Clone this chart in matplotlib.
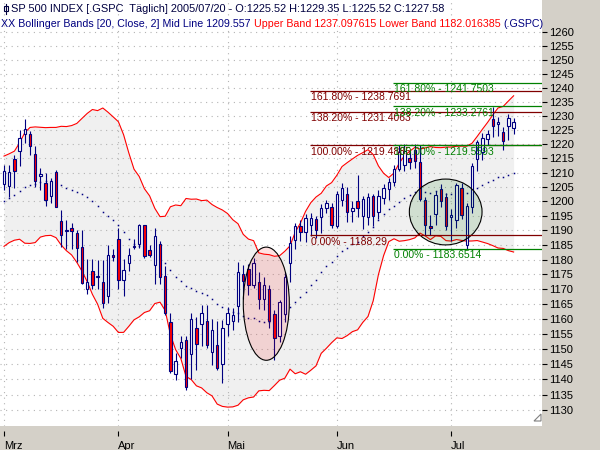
import numpy as np
import pandas as pd
import matplotlib
matplotlib.use('Agg')
import matplotlib.pyplot as plt
from matplotlib.patches import Ellipse, Rectangle, Polygon
from matplotlib.lines import Line2D
from matplotlib.ticker import FixedLocator, FormatStrFormatter, NullLocator

# SP 500 daily candles, 1 Mar - 20 Jul 2005
opens = [1206.0, 1205.5, 1214.6, 1217.4, 1223.5, 1223.5, 1216.6, 1208.7, 1206.3, 1202.0,
         1210.2, 1193.3, 1189.8, 1190.9, 1189.0, 1184.4, 1170.0, 1176.1, 1174.0, 1172.3,
         1167.9, 1181.7, 1187.1, 1173.0, 1178.9, 1184.8, 1185.3, 1191.7, 1183.3, 1178.1,
         1185.5, 1174.4, 1158.9, 1141.8, 1150.5, 1153.0, 1148.3, 1157.1, 1158.2, 1159.3,
         1149.0, 1151.3, 1145.0, 1158.5, 1159.3, 1164.5, 1175.2, 1177.0, 1171.5, 1172.4,
         1166.8, 1170.0, 1161.6, 1154.5, 1161.6, 1178.9, 1186.7, 1191.5, 1189.5, 1191.8,
         1193.8, 1194.5, 1197.8, 1198.2, 1191.4, 1200.5, 1202.4, 1196.8, 1200.3, 1195.0,
         1194.5, 1201.7, 1196.3, 1201.2, 1204.3, 1206.8, 1211.4, 1212.5, 1215.1, 1218.0,
         1213.7, 1200.5, 1191.5, 1195.6, 1204.3, 1201.6, 1194.7, 1193.6, 1204.8, 1185.0,
         1198.2, 1214.8, 1217.1, 1221.7, 1228.9, 1226.9, 1224.4, 1226.3, 1225.5]
highs = [1212.5, 1212.8, 1216.0, 1225.0, 1228.9, 1224.5, 1219.4, 1211.6, 1209.7, 1208.0,
         1211.0, 1197.0, 1193.5, 1192.4, 1190.0, 1190.1, 1180.3, 1180.3, 1180.0, 1179.8,
         1184.9, 1183.5, 1190.7, 1180.3, 1184.0, 1187.0, 1192.1, 1192.0, 1184.9, 1190.9,
         1186.5, 1178.0, 1162.0, 1148.7, 1154.5, 1154.5, 1162.0, 1160.6, 1164.8, 1164.8,
         1160.0, 1159.3, 1159.7, 1164.0, 1163.7, 1179.2, 1178.3, 1178.5, 1180.5, 1175.8,
         1174.0, 1171.5, 1163.0, 1166.5, 1176.0, 1188.0, 1192.5, 1193.5, 1195.5, 1196.0,
         1195.0, 1199.0, 1200.5, 1199.5, 1203.5, 1206.5, 1205.0, 1200.0, 1209.0, 1202.0,
         1203.0, 1202.5, 1204.0, 1206.0, 1208.0, 1212.5, 1219.7, 1220.0, 1217.7, 1220.0,
         1219.6, 1201.5, 1195.3, 1203.5, 1206.0, 1203.0, 1197.5, 1206.5, 1206.5, 1199.5,
         1213.5, 1221.5, 1224.0, 1225.0, 1233.2, 1229.5, 1226.0, 1230.5, 1229.35]
lows = [1204.0, 1201.6, 1204.5, 1212.3, 1220.4, 1216.2, 1205.1, 1203.9, 1198.4, 1199.5,
        1198.0, 1184.5, 1183.5, 1183.8, 1179.2, 1171.7, 1168.3, 1170.0, 1170.0, 1163.7,
        1165.4, 1179.6, 1170.2, 1167.7, 1176.3, 1183.6, 1184.0, 1180.5, 1180.9, 1171.7,
        1171.7, 1161.4, 1142.1, 1139.8, 1147.0, 1136.5, 1140.3, 1143.2, 1151.0, 1150.5,
        1144.7, 1143.2, 1138.9, 1154.5, 1156.5, 1159.1, 1166.6, 1168.0, 1170.5, 1163.5,
        1163.0, 1157.0, 1146.5, 1152.5, 1159.0, 1172.5, 1183.5, 1186.5, 1186.0, 1188.0,
        1187.5, 1189.0, 1196.0, 1191.0, 1191.0, 1198.5, 1193.0, 1193.0, 1194.5, 1190.5,
        1192.0, 1191.5, 1194.0, 1199.0, 1200.5, 1205.5, 1210.5, 1210.5, 1211.4, 1211.5,
        1200.0, 1188.3, 1188.4, 1192.0, 1198.0, 1190.0, 1186.5, 1191.0, 1194.0, 1183.6,
        1196.0, 1210.5, 1214.5, 1219.5, 1222.5, 1223.0, 1218.0, 1221.5, 1223.5]
closes = [1210.5, 1210.2, 1210.6, 1222.3, 1225.4, 1219.4, 1207.1, 1209.5, 1200.5, 1207.2,
          1198.2, 1188.6, 1190.3, 1189.9, 1184.0, 1172.0, 1172.6, 1171.6, 1174.4, 1165.4,
          1181.7, 1180.9, 1173.0, 1176.6, 1181.7, 1184.2, 1191.7, 1181.4, 1181.7, 1188.2,
          1174.0, 1162.0, 1142.7, 1146.1, 1152.4, 1137.5, 1160.0, 1151.6, 1162.0, 1151.4,
          1156.2, 1143.6, 1157.0, 1162.0, 1161.2, 1176.0, 1172.9, 1171.6, 1179.0, 1166.6,
          1171.4, 1159.4, 1153.8, 1165.6, 1174.0, 1185.7, 1191.5, 1189.5, 1194.4, 1194.4,
          1190.2, 1197.8, 1199.3, 1192.0, 1202.6, 1204.5, 1196.4, 1197.6, 1197.6, 1201.0,
          1201.6, 1195.1, 1202.0, 1204.5, 1206.8, 1211.4, 1217.1, 1217.5, 1213.7, 1214.0,
          1201.0, 1191.9, 1191.0, 1202.2, 1200.1, 1191.6, 1195.3, 1205.6, 1195.3, 1198.4,
          1212.2, 1220.6, 1222.3, 1223.5, 1226.3, 1227.8, 1221.2, 1229.2, 1227.6]
# the 19 closes before 1 Mar that the 20-day band needs at its start
prior_closes = [1189.41, 1193.19, 1189.89, 1203.03, 1201.72, 1202.30, 1191.99, 1197.01,
                1205.30, 1206.14, 1210.12, 1210.34, 1200.75, 1201.59, 1184.16, 1190.80,
                1200.20, 1211.37, 1203.60]

month_labels = ['Mrz', 'Apr', 'Mai', 'Jun', 'Jul']
month_starts = [0, 22, 43, 64, 86]   # candle index of first trading day

fib_pct = ['0.00%', '100.00%', '138.20%', '161.80%']
red_fib = [1188.29, 1219.4885, 1231.4063, 1238.7691]
green_fib = [1183.6514, 1219.5593, 1233.2761, 1241.7503]

NAVY = '#000080'
plt.rcParams['font.family'] = ['Liberation Sans', 'DejaVu Sans']

o = np.array(opens); h = np.array(highs); l = np.array(lows); c = np.array(closes)
x = np.arange(len(c))

s = pd.Series(prior_closes + closes)
n0 = len(prior_closes)
mid = s.rolling(20).mean().to_numpy()[n0:]
sd = s.rolling(20).std(ddof=0).to_numpy()[n0:]
upper = mid + 2 * sd
lower = mid - 2 * sd

fig = plt.figure(figsize=(6, 4.5), dpi=100, facecolor='#d4d0c8')
ax = fig.add_axes([0, 24 / 450, 542 / 600, 426 / 450])
ax.set_facecolor('white')
for sp in ax.spines.values():
    sp.set_visible(False)
ax.spines['bottom'].set_position(('outward', 3.5))

# price axis is logarithmic
ax.set_yscale('log')
ax.set_xlim(-0.77, 103.46)
ax.set_ylim(1124.8, 1271.7)

# bollinger bands
ax.fill_between(x, lower, upper, color='#f0f0f0', lw=0, zorder=1)
ax.plot(x, upper, color='red', lw=0.8, zorder=2)
ax.plot(x, lower, color='red', lw=0.8, zorder=2)
ax.plot(x, mid, ls='none', marker='s', ms=1.1, mew=0, color=NAVY, zorder=2)

# candles
up = c >= o
ax.vlines(x, l, h, color=NAVY, lw=0.8, zorder=3)
body = np.maximum(np.abs(c - o), 0.25)
ax.bar(x, body, bottom=np.minimum(o, c), width=0.44,
       color=np.where(up, 'white', 'red'), edgecolor=NAVY, linewidth=0.8, zorder=4)

# marked areas
ax.add_patch(Ellipse((50.44, 1165.3), 8.85, 38.0, facecolor=(1, 0, 0, 0.12),
                     edgecolor='black', lw=0.8, zorder=4.5))
ax.add_patch(Ellipse((84.94, 1196.4), 13.98, 22.7, facecolor=(0, 0.45, 0, 0.13),
                     edgecolor='black', lw=0.8, zorder=4.5))

# fibonacci extensions
xr = ax.get_xlim()[1]
for start, vals, col in [(58.8, red_fib, '#800000'), (74.8, green_fib, '#008000')]:
    ax.hlines(vals, start, xr, color=col, lw=0.9, zorder=5)
    for p, v in zip(fib_pct, vals):
        ax.annotate(f'{p} - {v}', (start, v), xytext=(1, -1), textcoords='offset points',
                    ha='left', va='top', color=col, fontsize=7.5, zorder=5)

# axes
ax.yaxis.tick_right()
ax.yaxis.set_major_locator(FixedLocator(np.arange(1130, 1261, 5)))
ax.yaxis.set_major_formatter(FormatStrFormatter('%d'))
ax.yaxis.set_minor_locator(NullLocator())
ax.set_xticks(month_starts)
ax.set_xticklabels(month_labels, ha='left')
ax.tick_params(axis='y', direction='out', length=3.5, width=0.8, pad=1.5, labelsize=8)
ax.tick_params(axis='x', direction='out', length=3.5, width=0.8, pad=4, labelsize=8)
ax.set_axisbelow('line')
ax.grid(True, which='major', color='#b4b4b4', linestyle=(0, (1, 4)), linewidth=0.8)

# little resize grip in the bottom right corner of the plot
fig.add_artist(Polygon([(534 / 600, 1 - 421 / 450), (541 / 600, 1 - 414 / 450),
                        (541 / 600, 1 - 421 / 450)], closed=True,
                       transform=fig.transFigure, facecolor='white',
                       edgecolor='#808080', lw=0.8))

# header lines
fig.text(11 / 600, 1 - 8.5 / 450,
         'SP 500 INDEX [.GSPC  Täglich] 2005/07/20 - O:1225.52 H:1229.35 L:1225.52 C:1227.58',
         fontsize=7.9, color='#000040', va='center', ha='left')
fig.add_artist(Line2D([5.8 / 600] * 2, [1 - 3.5 / 450, 1 - 13.5 / 450],
                      transform=fig.transFigure, color='#000040', lw=0.8))
fig.add_artist(Rectangle((3.6 / 600, 1 - 11 / 450), 4.4 / 600, 4.5 / 450,
                         transform=fig.transFigure, facecolor='white',
                         edgecolor='#000040', lw=0.8))

t2 = fig.text(1 / 600, 1 - 24 / 450, 'XX Bollinger Bands [20, Close, 2] Mid Line 1209.557 ',
              fontsize=7.65, color=NAVY, va='center', ha='left')
t3 = ax.annotate('Upper Band 1237.097615 Lower Band 1182.016385 ', xy=(1, 0), xycoords=t2,
                 va='bottom', ha='left', fontsize=7.65, color='red')
ax.annotate('(.GSPC)', xy=(1, 0), xycoords=t3, va='bottom', ha='left',
            fontsize=7.65, color=NAVY)

fig.savefig('out.png', dpi=100, facecolor=fig.get_facecolor())
